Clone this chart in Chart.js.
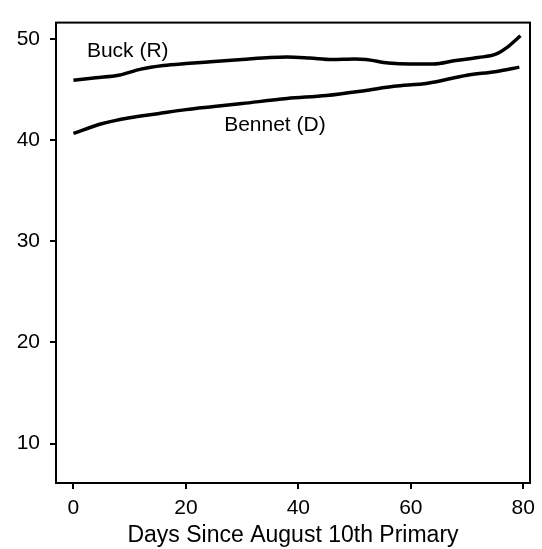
<!DOCTYPE html>
<html>
<head>
<meta charset="utf-8">
<script src="https://cdn.jsdelivr.net/npm/chart.js@4.4.0/dist/chart.umd.min.js"></script>
<style>
  html, body { margin: 0; padding: 0; background: #fff; }
  #wrap { width: 542px; height: 549px; }
</style>
</head>
<body>
<div id="wrap"><canvas id="myChart" width="542" height="549"></canvas></div>
<script>
// days since primary, poll share (%)
const buckDays = [0, 4, 8, 12, 16, 20, 25, 30, 35, 38, 42, 46, 50, 52, 56, 60, 64, 68, 72, 75, 77, 79.5];
const buckVals = [45.9, 46.15, 46.4, 47.0, 47.35, 47.55, 47.75, 47.95, 48.15, 48.2, 48.1, 47.95, 48.0, 47.95, 47.6, 47.5, 47.5, 47.85, 48.15, 48.45, 49.1, 50.3];

const bennetDays = [0, 5, 10, 15, 20, 25, 30, 38, 45, 52, 57, 63, 70, 75, 79.3];
const bennetVals = [40.65, 41.6, 42.2, 42.6, 43.0, 43.3, 43.6, 44.1, 44.4, 44.9, 45.3, 45.6, 46.4, 46.75, 47.2];

const xTicks = [0, 20, 40, 60, 80];
const yTicks = [10, 20, 30, 40, 50];

const seriesLabels = [
  { text: 'Buck (R)', x: 2.4, y: 48.8 },
  { text: 'Bennet (D)', x: 26.8, y: 41.5 }
];

const FONT = '"Liberation Sans", Arial, Helvetica, sans-serif';

const toPoints = (xs, ys) => xs.map((x, i) => ({ x: x, y: ys[i] }));

// frame round the plot + the in-plot series names
const frameAndLabels = {
  id: 'frameAndLabels',
  afterDraw(chart) {
    const { ctx, chartArea: a, scales } = chart;
    ctx.save();
    ctx.strokeStyle = '#000';
    ctx.lineWidth = 2;
    ctx.strokeRect(a.left, a.top, a.right - a.left, a.bottom - a.top);
    ctx.fillStyle = '#000';
    ctx.font = '21px ' + FONT;
    ctx.textBaseline = 'middle';
    ctx.textAlign = 'left';
    seriesLabels.forEach(l => {
      ctx.fillText(l.text, scales.x.getPixelForValue(l.x), scales.y.getPixelForValue(l.y));
    });
    ctx.restore();
  }
};

new Chart(document.getElementById('myChart').getContext('2d'), {
  type: 'line',
  data: {
    datasets: [
      {
        label: 'Buck (R)',
        data: toPoints(buckDays, buckVals),
        borderColor: '#000',
        borderWidth: 3.5,
        pointRadius: 0,
        cubicInterpolationMode: 'monotone'
      },
      {
        label: 'Bennet (D)',
        data: toPoints(bennetDays, bennetVals),
        borderColor: '#000',
        borderWidth: 3.5,
        pointRadius: 0,
        cubicInterpolationMode: 'monotone'
      }
    ]
  },
  options: {
    responsive: false,
    animation: false,
    layout: { padding: { top: 14, right: 4, left: 0, bottom: 0 } },
    plugins: { legend: { display: false }, tooltip: { enabled: false } },
    scales: {
      x: {
        type: 'linear',
        min: -3.1,
        max: 81.2,
        afterBuildTicks: s => { s.ticks = xTicks.map(v => ({ value: v })); },
        afterFit: s => { s.height = 66; },
        grid: { drawOnChartArea: false, tickLength: 6, color: '#000', lineWidth: 2 },
        border: { color: '#000', width: 2 },
        ticks: { color: '#000', font: { family: FONT, size: 21 }, padding: 7, maxRotation: 0 },
        title: { display: true, text: 'Days Since August 10th Primary', color: '#000', font: { family: FONT, size: 23 }, padding: { top: 0, bottom: 0 } }
      },
      y: {
        type: 'linear',
        min: 6.1,
        max: 51.6,
        afterBuildTicks: s => { s.ticks = yTicks.map(v => ({ value: v })); },
        afterFit: s => { s.width = 56; },
        grid: { drawOnChartArea: false, tickLength: 6, color: '#000', lineWidth: 2 },
        border: { color: '#000', width: 2 },
        ticks: { color: '#000', font: { family: FONT, size: 21 }, padding: 10 }
      }
    }
  },
  plugins: [frameAndLabels]
});
</script>
</body>
</html>
